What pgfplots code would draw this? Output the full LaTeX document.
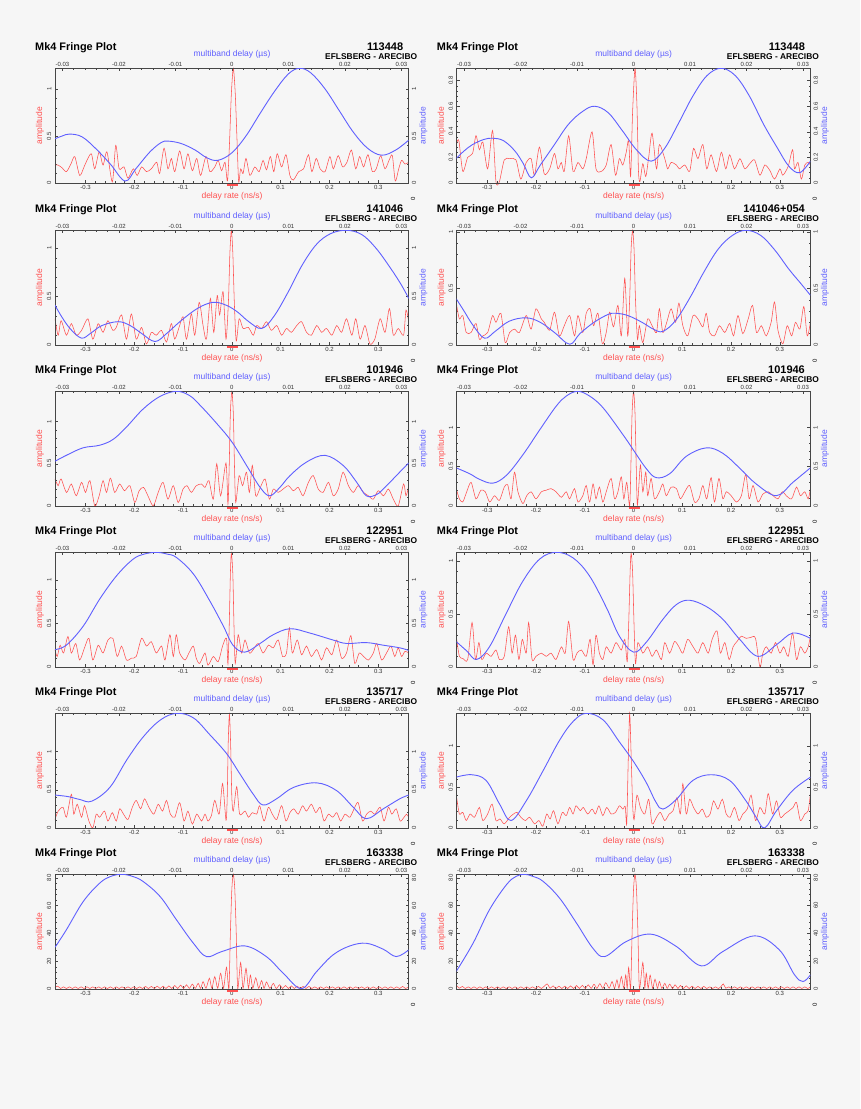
\documentclass[border=0pt]{standalone}
\usepackage{fontspec}
\setmainfont{Liberation Sans}
\usepackage{pgfplots}
\pgfplotsset{compat=1.18}
\definecolor{bgc}{RGB}{246,246,246}
\definecolor{redc}{RGB}{255,80,80}
\definecolor{bluec}{RGB}{95,95,255}
\definecolor{framec}{RGB}{70,70,70}
\pgfplotsset{
  fringe/.style={
    scale only axis, width=353.7pt, height=114.6pt, ymin=0,
    axis line style={draw=framec, line width=0.7pt},
    tick style={draw=framec, line width=0.4pt},
    major tick length=3pt, minor tick length=1.6pt,
    scaled ticks=false,
    /pgf/number format/fixed, /pgf/number format/precision=3,
    /pgf/number format/assume math mode=true,
    tick label style={font=\fontsize{6}{7}\selectfont, text=black!80, inner sep=1pt},
    minor x tick num=4, minor y tick num=4,
  },
}
\newcommand{\panel}[7]{%
\begin{axis}[fringe, at={(#1pt,-#2pt)}, anchor=north west,
  xmin=-0.3625, xmax=0.3625, ymax=#3, ytick={#4},
  xtick={-0.3,-0.2,-0.1,0,0.1,0.2,0.3},
  tick pos=left, clip=false,
  xticklabel style={yshift=-1.5pt},
  yticklabel style={xshift=-2.5pt, rotate=90, anchor=south}]
\addplot[redc, line width=0.55pt, smooth, tension=0.45] coordinates {#6};
\addplot[redc, line width=2pt, yshift=-1.6pt] coordinates {(-0.010,0)(0.013,0)};
\end{axis}
\begin{axis}[fringe, at={(#1pt,-#2pt)}, anchor=north west,
  xmin=-0.0313, xmax=0.0313, ymax=#3, ytick={#4},
  xtick={-0.03,-0.02,-0.01,0,0.01,0.02,0.03},
  tick pos=right, ticklabel pos=right,
  xticklabel style={yshift=0.5pt},
  yticklabel style={xshift=2pt, rotate=90, anchor=north}]
\addplot[bluec, line width=0.9pt, smooth, tension=0.6] coordinates {#7};
\end{axis}
\node[anchor=base west, font=\fontsize{10.9}{12}\selectfont\bfseries] at ({#1-23.3},{-#2+18.3}) {Mk4 Fringe Plot};
\node[anchor=base east, font=\fontsize{11}{12}\selectfont\bfseries] at ({#1+351.7},{-#2+18.3}) {#5};
\node[anchor=base east, font=\fontsize{8.4}{10}\selectfont\bfseries] at ({#1+365.7},{-#2+9.3}) {EFLSBERG - ARECIBO};
\node[bluec, font=\fontsize{8.5}{10}\selectfont] at ({#1+177},{-#2+14}) {multiband delay (µs)};
\node[redc, font=\fontsize{8.5}{10}\selectfont] at ({#1+177},{-#2-114.6-13.3}) {delay rate (ns/s)};
\node[redc, rotate=90, font=\fontsize{8.5}{10}\selectfont] at ({#1-15},{-#2-57.3}) {amplitude};
\node[bluec, rotate=90, font=\fontsize{8.5}{10}\selectfont] at ({#1+368.3},{-#2-57.3}) {amplitude};
\node[rotate=90, font=\fontsize{6}{7}\selectfont] at ({#1+358},{-#2-114.6-15.6}) {0};
}
\begin{document}
\begin{tikzpicture}[x=1pt,y=1pt]
\fill[bgc] (0,0) rectangle (860,-1109);
% ---------- row 1 ----------
\panel{55}{68.3}{1.22}{0,0.5,1}{113448}
{(-0.3625,0.19)(-0.356,0.19)(-0.348,0.16)(-0.339,0.12)(-0.330,0.20)(-0.322,0.28)(-0.312,0.08)(-0.303,0.17)(-0.297,0.24)(-0.288,0.31)(-0.281,0.15)(-0.272,0.33)(-0.264,0.19)(-0.256,0.33)(-0.245,0.01)(-0.238,0.40)(-0.231,0.15)(-0.221,0.17)(-0.213,0.05)(-0.202,0.15)(-0.194,0.08)(-0.185,0.17)(-0.175,0.12)(-0.165,0.15)(-0.154,0.22)(-0.148,0.10)(-0.139,0.37)(-0.131,0.15)(-0.124,0.26)(-0.117,0.12)(-0.107,0.34)(-0.098,0.15)(-0.090,0.31)(-0.081,0.13)(-0.072,0.26)(-0.064,0.08)(-0.053,0.28)(-0.045,0.12)(-0.035,0.17)(-0.028,0.24)(-0.021,0.13)(-0.014,0.22)(-0.009,0.02)(-0.005,0.40)(-0.001,0.95)(0.003,1.22)(0.007,0.95)(0.011,0.40)(0.014,0.01)(0.018,0.15)(0.023,0.10)(0.029,0.26)(0.037,0.08)(0.047,0.17)(0.056,0.12)(0.064,0.24)(0.071,0.14)(0.079,0.28)(0.086,0.12)(0.093,0.31)(0.102,0.17)(0.111,0.30)(0.119,0.08)(0.126,0.03)(0.137,0.12)(0.147,0.15)(0.157,0.30)(0.164,0.12)(0.173,0.26)(0.181,0.15)(0.191,0.12)(0.201,0.28)(0.208,0.15)(0.218,0.29)(0.227,0.17)(0.236,0.22)(0.245,0.35)(0.254,0.15)(0.262,0.28)(0.270,0.17)(0.279,0.30)(0.288,0.12)(0.296,0.15)(0.305,0.29)(0.314,0.15)(0.323,0.25)(0.329,0.29)(0.335,0.02)(0.342,0.15)(0.348,0.24)(0.355,0.20)(0.3625,0.22)}
{(-0.0313,0.47)(-0.0300,0.50)(-0.0287,0.52)(-0.0265,0.49)(-0.0240,0.36)(-0.0215,0.20)(-0.0189,0.02)(-0.0170,0.15)(-0.0145,0.33)(-0.0125,0.43)(-0.0113,0.445)(-0.0090,0.42)(-0.0065,0.35)(-0.0045,0.27)(-0.0025,0.24)(0.0000,0.32)(0.0025,0.50)(0.0050,0.74)(0.0075,0.97)(0.0100,1.16)(0.0120,1.22)(0.0140,1.17)(0.0165,1.00)(0.0190,0.77)(0.0215,0.54)(0.0240,0.37)(0.0265,0.295)(0.0290,0.35)(0.0313,0.455)}
\panel{456.7}{68.3}{0.897}{0,0.2,0.4,0.6,0.8}{113448}
{(-0.3625,0.31)(-0.358,0.33)(-0.350,0.09)(-0.340,0.20)(-0.330,0.23)(-0.323,0.37)(-0.316,0.26)(-0.309,0.32)(-0.299,0.11)(-0.289,0.41)(-0.282,0.01)(-0.275,0.01)(-0.265,0.18)(-0.254,0.19)(-0.241,0.18)(-0.231,0.03)(-0.220,0.16)(-0.210,0.19)(-0.203,0.06)(-0.193,0.28)(-0.183,0.07)(-0.172,0.11)(-0.162,0.23)(-0.155,0.11)(-0.148,0.16)(-0.142,0.09)(-0.133,0.37)(-0.124,0.09)(-0.114,0.16)(-0.104,0.11)(-0.097,0.19)(-0.085,0.40)(-0.077,0.11)(-0.066,0.09)(-0.056,0.14)(-0.046,0.30)(-0.037,0.06)(-0.029,0.19)(-0.022,0.14)(-0.015,0.24)(-0.010,0.33)(-0.006,0.05)(-0.002,0.55)(0.003,0.897)(0.007,0.60)(0.010,0.10)(0.013,0.01)(0.019,0.15)(0.025,0.05)(0.031,0.20)(0.038,0.39)(0.047,0.11)(0.053,0.30)(0.064,0.19)(0.070,0.11)(0.077,0.16)(0.088,0.14)(0.094,0.11)(0.105,0.14)(0.115,0.09)(0.123,0.27)(0.132,0.19)(0.142,0.30)(0.150,0.11)(0.159,0.22)(0.170,0.09)(0.180,0.24)(0.189,0.11)(0.197,0.22)(0.207,0.11)(0.218,0.19)(0.228,0.11)(0.238,0.15)(0.248,0.18)(0.259,0.06)(0.269,0.14)(0.279,0.10)(0.289,0.03)(0.300,0.11)(0.306,0.06)(0.317,0.13)(0.326,0.26)(0.330,0.11)(0.337,0.16)(0.344,0.03)(0.351,0.14)(0.358,0.16)(0.3625,0.14)}
{(-0.0314,0.19)(-0.0300,0.25)(-0.0285,0.30)(-0.0265,0.34)(-0.0249,0.35)(-0.0230,0.33)(-0.0210,0.25)(-0.0195,0.15)(-0.0181,0.04)(-0.0165,0.14)(-0.0140,0.30)(-0.0115,0.46)(-0.0090,0.56)(-0.0069,0.60)(-0.0045,0.55)(-0.0020,0.41)(0.0005,0.26)(0.0031,0.17)(0.0055,0.27)(0.0080,0.47)(0.0105,0.68)(0.0130,0.84)(0.0155,0.897)(0.0180,0.84)(0.0205,0.68)(0.0230,0.46)(0.0255,0.27)(0.0275,0.13)(0.0294,0.08)(0.0313,0.17)}
% ---------- row 2 ----------
\panel{55}{230.3}{1.184}{0,0.5,1}{141046}
{(-0.3625,0.27)(-0.356,0.10)(-0.350,0.25)(-0.339,0.10)(-0.329,0.22)(-0.319,0.10)(-0.308,0.15)(-0.295,0.27)(-0.285,0.06)(-0.274,0.22)(-0.264,0.13)(-0.254,0.25)(-0.244,0.15)(-0.237,0.18)(-0.226,0.31)(-0.216,0.06)(-0.206,0.32)(-0.196,0.06)(-0.185,0.18)(-0.175,0.01)(-0.165,0.13)(-0.155,0.10)(-0.144,0.15)(-0.134,0.03)(-0.124,0.22)(-0.117,0.06)(-0.107,0.20)(-0.100,0.29)(-0.093,0.06)(-0.083,0.32)(-0.076,0.10)(-0.067,0.44)(-0.059,0.20)(-0.052,0.06)(-0.044,0.48)(-0.037,0.13)(-0.030,0.51)(-0.025,0.31)(-0.018,0.55)(-0.012,0.06)(-0.007,0.45)(-0.004,0.95)(-0.001,1.184)(0.002,0.95)(0.005,0.45)(0.009,0.04)(0.015,0.27)(0.023,0.17)(0.034,0.18)(0.044,0.10)(0.051,0.20)(0.061,0.17)(0.071,0.24)(0.081,0.15)(0.092,0.20)(0.102,0.10)(0.112,0.17)(0.122,0.13)(0.133,0.20)(0.143,0.24)(0.153,0.13)(0.163,0.10)(0.174,0.20)(0.184,0.13)(0.194,0.17)(0.205,0.10)(0.215,0.20)(0.225,0.13)(0.235,0.27)(0.246,0.10)(0.254,0.27)(0.263,0.06)(0.273,0.20)(0.283,0.01)(0.293,0.06)(0.304,0.27)(0.314,0.13)(0.323,0.375)(0.331,0.10)(0.341,0.17)(0.352,0.10)(0.357,0.36)(0.3625,0.24)}
{(-0.0313,0.41)(-0.0300,0.28)(-0.0285,0.16)(-0.0266,0.07)(-0.0250,0.12)(-0.0230,0.20)(-0.0201,0.24)(-0.0180,0.20)(-0.0160,0.12)(-0.0136,0.035)(-0.0115,0.12)(-0.0090,0.25)(-0.0060,0.38)(-0.0033,0.44)(-0.0010,0.41)(0.0010,0.34)(0.0030,0.24)(0.0053,0.17)(0.0075,0.30)(0.0100,0.55)(0.0125,0.83)(0.0150,1.04)(0.0175,1.15)(0.0203,1.184)(0.0230,1.14)(0.0255,1.00)(0.0280,0.80)(0.0300,0.62)(0.0313,0.48)}
\panel{456.7}{230.3}{1.015}{0,0.5,1}{141046+054}
{(-0.3625,0.35)(-0.357,0.23)(-0.350,0.26)(-0.343,0.11)(-0.333,0.11)(-0.323,0.19)(-0.316,0.05)(-0.309,0.08)(-0.299,0.11)(-0.289,0.26)(-0.282,0.20)(-0.272,0.28)(-0.263,0.02)(-0.254,0.11)(-0.244,0.14)(-0.234,0.11)(-0.220,0.26)(-0.210,0.14)(-0.200,0.32)(-0.189,0.23)(-0.183,0.20)(-0.172,0.13)(-0.162,0.29)(-0.152,0.08)(-0.142,0.17)(-0.131,0.26)(-0.121,0.08)(-0.114,0.26)(-0.104,0.11)(-0.097,0.28)(-0.089,0.32)(-0.082,0.17)(-0.073,0.28)(-0.064,0.01)(-0.056,0.11)(-0.049,0.29)(-0.041,0.16)(-0.032,0.35)(-0.025,0.08)(-0.018,0.59)(-0.012,0.08)(-0.008,0.40)(-0.005,0.85)(-0.002,1.015)(0.001,0.85)(0.004,0.40)(0.008,0.05)(0.012,0.17)(0.019,0.02)(0.029,0.23)(0.038,0.17)(0.047,0.11)(0.053,0.32)(0.060,0.11)(0.068,0.20)(0.077,0.32)(0.086,0.20)(0.093,0.37)(0.101,0.17)(0.111,0.08)(0.122,0.26)(0.132,0.23)(0.142,0.16)(0.149,0.28)(0.156,0.11)(0.166,0.08)(0.176,0.17)(0.187,0.11)(0.197,0.19)(0.205,0.08)(0.214,0.26)(0.224,0.10)(0.235,0.23)(0.244,0.35)(0.252,0.11)(0.262,0.17)(0.272,0.08)(0.282,0.20)(0.289,0.38)(0.296,0.13)(0.306,0.01)(0.315,0.17)(0.324,0.08)(0.332,0.20)(0.341,0.14)(0.349,0.34)(0.356,0.08)(0.3625,0.20)}
{(-0.0314,0.41)(-0.0300,0.30)(-0.0285,0.18)(-0.0264,0.06)(-0.0245,0.12)(-0.0220,0.21)(-0.0190,0.24)(-0.0165,0.20)(-0.0140,0.11)(-0.0113,0.006)(-0.0095,0.10)(-0.0070,0.20)(-0.0045,0.27)(-0.0031,0.28)(-0.0010,0.26)(0.0015,0.20)(0.0035,0.14)(0.0052,0.12)(0.0075,0.22)(0.0100,0.42)(0.0125,0.65)(0.0150,0.85)(0.0175,0.97)(0.0199,1.015)(0.0225,0.97)(0.0250,0.84)(0.0275,0.67)(0.0295,0.55)(0.0313,0.44)}
% ---------- row 3 ----------
\panel{55}{391.3}{1.36}{0,0.5,1}{101946}
{(-0.3625,0.32)(-0.356,0.24)(-0.350,0.32)(-0.339,0.16)(-0.329,0.26)(-0.319,0.12)(-0.308,0.28)(-0.300,0.16)(-0.291,0.30)(-0.281,0.00)(-0.272,0.12)(-0.264,0.30)(-0.257,0.16)(-0.249,0.33)(-0.240,0.16)(-0.230,0.26)(-0.220,0.18)(-0.209,0.24)(-0.199,0.04)(-0.190,0.18)(-0.181,0.22)(-0.172,0.12)(-0.161,0.00)(-0.151,0.16)(-0.141,0.28)(-0.131,0.08)(-0.120,0.24)(-0.110,0.04)(-0.100,0.20)(-0.092,0.24)(-0.083,0.16)(-0.073,0.24)(-0.062,0.26)(-0.055,0.22)(-0.047,0.30)(-0.038,0.08)(-0.031,0.50)(-0.023,0.12)(-0.012,0.51)(-0.008,0.02)(-0.0055,0.45)(-0.003,1.10)(0.000,1.36)(0.003,1.10)(0.0055,0.45)(0.008,0.04)(0.015,0.36)(0.022,0.24)(0.030,0.40)(0.036,0.16)(0.042,0.48)(0.049,0.12)(0.057,0.20)(0.068,0.32)(0.077,0.08)(0.085,0.20)(0.095,0.16)(0.105,0.20)(0.116,0.24)(0.126,0.18)(0.136,0.22)(0.146,0.12)(0.157,0.28)(0.167,0.36)(0.177,0.20)(0.187,0.16)(0.198,0.28)(0.208,0.12)(0.218,0.20)(0.228,0.40)(0.239,0.24)(0.249,0.16)(0.259,0.24)(0.270,0.16)(0.280,0.12)(0.290,0.08)(0.300,0.18)(0.311,0.12)(0.321,0.20)(0.331,0.08)(0.341,0.00)(0.352,0.26)(0.357,0.12)(0.3625,0.24)}
{(-0.0313,0.53)(-0.0290,0.61)(-0.0263,0.69)(-0.0234,0.72)(-0.0210,0.79)(-0.0186,0.94)(-0.0157,1.15)(-0.0127,1.30)(-0.0098,1.36)(-0.0075,1.31)(-0.0057,1.20)(-0.0027,0.98)(0.0000,0.76)(0.0026,0.48)(0.0050,0.22)(0.0067,0.12)(0.0085,0.22)(0.0103,0.36)(0.0132,0.52)(0.0165,0.60)(0.0197,0.48)(0.0221,0.28)(0.0238,0.12)(0.0255,0.13)(0.0268,0.20)(0.0297,0.40)(0.0313,0.51)}
\panel{456.7}{391.3}{1.46}{0,0.5,1}{101946}
{(-0.3625,0.20)(-0.357,0.09)(-0.350,0.05)(-0.342,0.18)(-0.333,0.30)(-0.323,0.09)(-0.313,0.20)(-0.304,0.18)(-0.295,0.05)(-0.285,0.13)(-0.275,0.07)(-0.265,0.24)(-0.258,0.27)(-0.251,0.09)(-0.244,0.43)(-0.237,0.18)(-0.227,0.03)(-0.219,0.13)(-0.210,0.18)(-0.200,0.09)(-0.189,0.18)(-0.179,0.20)(-0.169,0.22)(-0.159,0.18)(-0.148,0.11)(-0.138,0.18)(-0.131,0.09)(-0.121,0.22)(-0.114,0.05)(-0.104,0.13)(-0.097,0.26)(-0.090,0.05)(-0.083,0.28)(-0.077,0.09)(-0.070,0.24)(-0.063,0.05)(-0.056,0.18)(-0.046,0.35)(-0.039,0.09)(-0.032,0.18)(-0.025,0.37)(-0.020,0.09)(-0.014,0.30)(-0.008,0.00)(-0.0055,0.50)(-0.003,1.18)(0.000,1.46)(0.003,1.18)(0.0055,0.50)(0.008,0.01)(0.014,0.52)(0.019,0.18)(0.025,0.43)(0.029,0.13)(0.036,0.35)(0.043,0.09)(0.053,0.18)(0.060,0.28)(0.067,0.13)(0.077,0.24)(0.088,0.22)(0.096,0.09)(0.105,0.18)(0.115,0.26)(0.125,0.05)(0.134,0.09)(0.142,0.26)(0.150,0.09)(0.159,0.36)(0.166,0.05)(0.175,0.35)(0.183,0.09)(0.190,0.18)(0.200,0.13)(0.211,0.05)(0.221,0.13)(0.230,0.40)(0.237,0.09)(0.245,0.26)(0.255,0.05)(0.265,0.15)(0.276,0.18)(0.286,0.13)(0.296,0.09)(0.305,0.18)(0.313,0.13)(0.324,0.09)(0.334,0.24)(0.342,0.13)(0.351,0.18)(0.358,0.09)(0.3625,0.22)}
{(-0.0314,0.485)(-0.0290,0.41)(-0.0273,0.34)(-0.0249,0.29)(-0.0225,0.39)(-0.0196,0.65)(-0.0166,0.97)(-0.0137,1.27)(-0.0119,1.40)(-0.0099,1.46)(-0.0078,1.40)(-0.0054,1.25)(-0.0019,0.91)(0.0000,0.71)(0.0022,0.48)(0.0040,0.36)(0.0064,0.41)(0.0093,0.63)(0.0129,0.74)(0.0158,0.67)(0.0188,0.48)(0.0217,0.28)(0.0253,0.13)(0.0282,0.30)(0.0313,0.485)}
% ---------- row 4 ----------
\panel{55}{552.3}{1.32}{0,0.5,1}{122951}
{(-0.3625,0.20)(-0.358,0.12)(-0.352,0.25)(-0.345,0.16)(-0.336,0.35)(-0.329,0.16)(-0.320,0.27)(-0.312,0.08)(-0.302,0.22)(-0.293,0.33)(-0.285,0.08)(-0.274,0.25)(-0.264,0.16)(-0.254,0.31)(-0.244,0.33)(-0.235,0.12)(-0.226,0.24)(-0.216,0.08)(-0.206,0.10)(-0.196,0.12)(-0.185,0.33)(-0.175,0.24)(-0.165,0.29)(-0.155,0.16)(-0.144,0.24)(-0.137,0.08)(-0.127,0.37)(-0.120,0.12)(-0.114,0.37)(-0.107,0.16)(-0.096,0.08)(-0.088,0.16)(-0.079,0.24)(-0.073,0.10)(-0.066,0.04)(-0.055,0.16)(-0.049,0.02)(-0.038,0.12)(-0.028,0.06)(-0.019,0.24)(-0.011,0.33)(-0.008,0.03)(-0.0055,0.45)(-0.003,1.07)(-0.001,1.31)(0.002,1.07)(0.0045,0.45)(0.007,0.04)(0.013,0.37)(0.020,0.16)(0.027,0.31)(0.036,0.16)(0.044,0.20)(0.054,0.27)(0.064,0.16)(0.075,0.25)(0.085,0.22)(0.095,0.31)(0.104,0.12)(0.112,0.16)(0.118,0.45)(0.124,0.16)(0.134,0.31)(0.143,0.14)(0.153,0.24)(0.163,0.12)(0.174,0.20)(0.184,0.08)(0.194,0.22)(0.205,0.14)(0.215,0.31)(0.225,0.10)(0.235,0.16)(0.244,0.36)(0.252,0.04)(0.261,0.16)(0.270,0.12)(0.280,0.08)(0.290,0.16)(0.297,0.27)(0.307,0.08)(0.317,0.16)(0.326,0.24)(0.334,0.12)(0.341,0.22)(0.348,0.12)(0.355,0.18)(0.3625,0.16)}
{(-0.0313,0.20)(-0.0293,0.25)(-0.0263,0.47)(-0.0234,0.78)(-0.0204,1.05)(-0.0175,1.24)(-0.0155,1.30)(-0.0133,1.32)(-0.0115,1.30)(-0.0098,1.26)(-0.0068,1.07)(-0.0039,0.76)(-0.0015,0.47)(0.0002,0.25)(0.0023,0.17)(0.0050,0.27)(0.0073,0.37)(0.0103,0.44)(0.0138,0.39)(0.0179,0.31)(0.0203,0.27)(0.0238,0.28)(0.0268,0.25)(0.0297,0.22)(0.0313,0.19)}
\panel{456.7}{552.3}{1.083}{0,0.5,1}{122951}
{(-0.3625,0.26)(-0.357,0.10)(-0.350,0.08)(-0.340,0.07)(-0.331,0.42)(-0.324,0.07)(-0.317,0.23)(-0.311,0.07)(-0.302,0.13)(-0.292,0.10)(-0.282,0.16)(-0.275,0.07)(-0.265,0.10)(-0.256,0.38)(-0.249,0.13)(-0.242,0.30)(-0.235,0.07)(-0.228,0.26)(-0.220,0.13)(-0.215,0.42)(-0.208,0.07)(-0.200,0.10)(-0.189,0.13)(-0.179,0.10)(-0.169,0.13)(-0.159,0.07)(-0.148,0.19)(-0.140,0.13)(-0.133,0.43)(-0.124,0.07)(-0.116,0.13)(-0.107,0.16)(-0.097,0.10)(-0.089,0.26)(-0.083,0.02)(-0.077,0.30)(-0.070,0.13)(-0.063,0.07)(-0.056,0.19)(-0.046,0.13)(-0.036,0.23)(-0.025,0.16)(-0.018,0.26)(-0.013,0.05)(-0.010,0.40)(-0.007,0.90)(-0.005,1.076)(-0.002,0.90)(0.001,0.40)(0.004,0.03)(0.009,0.23)(0.019,0.13)(0.029,0.19)(0.038,0.10)(0.047,0.16)(0.057,0.07)(0.064,0.23)(0.074,0.13)(0.084,0.24)(0.093,0.19)(0.101,0.13)(0.111,0.26)(0.122,0.19)(0.132,0.13)(0.142,0.23)(0.153,0.13)(0.161,0.26)(0.171,0.34)(0.178,0.13)(0.187,0.23)(0.196,0.07)(0.204,0.19)(0.212,0.24)(0.221,0.29)(0.231,0.27)(0.241,0.28)(0.250,0.27)(0.259,0.00)(0.265,0.13)(0.272,0.19)(0.282,0.13)(0.291,0.23)(0.300,0.13)(0.308,0.19)(0.317,0.10)(0.326,0.32)(0.334,0.07)(0.342,0.19)(0.351,0.13)(0.358,0.19)(0.3625,0.29)}
{(-0.0314,0.24)(-0.0295,0.15)(-0.0278,0.07)(-0.0255,0.19)(-0.0225,0.51)(-0.0196,0.81)(-0.0166,1.02)(-0.0137,1.083)(-0.0107,1.03)(-0.0078,0.86)(-0.0048,0.56)(-0.0025,0.29)(0.0000,0.14)(0.0022,0.23)(0.0052,0.45)(0.0076,0.59)(0.0099,0.63)(0.0129,0.57)(0.0158,0.45)(0.0188,0.26)(0.0220,0.10)(0.0253,0.21)(0.0282,0.32)(0.0313,0.27)}
% ---------- row 5 ----------
\panel{55}{713.3}{1.50}{0,0.5,1}{135717}
{(-0.3625,0.11)(-0.356,0.22)(-0.346,0.27)(-0.339,0.14)(-0.329,0.44)(-0.324,0.18)(-0.317,0.31)(-0.308,0.14)(-0.302,0.29)(-0.293,0.09)(-0.285,0.00)(-0.278,0.18)(-0.271,0.14)(-0.261,0.22)(-0.254,0.09)(-0.245,0.20)(-0.237,0.09)(-0.230,0.25)(-0.222,0.18)(-0.213,0.11)(-0.204,0.27)(-0.196,0.36)(-0.187,0.25)(-0.179,0.38)(-0.170,0.27)(-0.160,0.18)(-0.151,0.31)(-0.142,0.22)(-0.134,0.36)(-0.126,0.18)(-0.117,0.14)(-0.107,0.33)(-0.098,0.09)(-0.090,0.22)(-0.081,0.05)(-0.072,0.18)(-0.062,0.09)(-0.055,0.18)(-0.049,0.09)(-0.042,0.16)(-0.035,0.36)(-0.026,0.18)(-0.019,0.58)(-0.012,0.10)(-0.0095,0.40)(-0.0075,1.10)(-0.005,1.49)(-0.0025,1.10)(0.000,0.40)(0.003,0.22)(0.010,0.54)(0.016,0.18)(0.027,0.22)(0.034,0.14)(0.042,0.20)(0.051,0.18)(0.057,0.29)(0.066,0.09)(0.075,0.27)(0.083,0.18)(0.092,0.11)(0.102,0.29)(0.111,0.09)(0.119,0.20)(0.127,0.25)(0.136,0.18)(0.145,0.29)(0.153,0.22)(0.163,0.31)(0.172,0.20)(0.181,0.27)(0.189,0.09)(0.198,0.18)(0.207,0.14)(0.215,0.20)(0.223,0.09)(0.232,0.18)(0.242,0.14)(0.252,0.27)(0.259,0.33)(0.268,0.09)(0.276,0.18)(0.285,0.22)(0.293,0.18)(0.304,0.27)(0.312,0.09)(0.321,0.27)(0.328,0.18)(0.337,0.25)(0.345,0.09)(0.353,0.14)(0.358,0.18)(0.3625,0.14)}
{(-0.0313,0.43)(-0.0290,0.41)(-0.0268,0.37)(-0.0248,0.35)(-0.0216,0.53)(-0.0186,0.89)(-0.0157,1.19)(-0.0127,1.41)(-0.0098,1.50)(-0.0068,1.44)(-0.0039,1.22)(-0.0009,0.97)(0.0014,0.71)(0.0038,0.44)(0.0055,0.30)(0.0079,0.38)(0.0109,0.53)(0.0150,0.59)(0.0185,0.49)(0.0215,0.27)(0.0238,0.12)(0.0268,0.25)(0.0297,0.38)(0.0313,0.43)}
\panel{456.7}{713.3}{1.40}{0,0.5,1}{135717}
{(-0.3625,0.37)(-0.357,0.17)(-0.350,0.19)(-0.343,0.09)(-0.335,0.17)(-0.326,0.13)(-0.316,0.25)(-0.309,0.09)(-0.299,0.17)(-0.290,0.29)(-0.282,0.09)(-0.274,0.11)(-0.265,0.05)(-0.254,0.13)(-0.246,0.17)(-0.239,0.19)(-0.231,0.13)(-0.222,0.09)(-0.213,0.13)(-0.203,0.05)(-0.194,0.09)(-0.186,0.02)(-0.178,0.17)(-0.171,0.11)(-0.164,0.21)(-0.155,0.05)(-0.146,0.19)(-0.138,0.15)(-0.131,0.25)(-0.124,0.17)(-0.118,0.27)(-0.109,0.21)(-0.103,0.25)(-0.094,0.17)(-0.085,0.23)(-0.078,0.17)(-0.071,0.27)(-0.063,0.15)(-0.055,0.25)(-0.046,0.17)(-0.037,0.19)(-0.029,0.27)(-0.022,0.23)(-0.017,0.26)(-0.014,0.05)(-0.011,0.80)(-0.008,1.40)(-0.005,0.90)(-0.002,0.30)(0.001,0.10)(0.007,0.40)(0.014,0.25)(0.023,0.17)(0.031,0.35)(0.038,0.05)(0.047,0.13)(0.055,0.19)(0.064,0.09)(0.073,0.17)(0.081,0.21)(0.089,0.37)(0.096,0.17)(0.101,0.54)(0.108,0.17)(0.115,0.35)(0.123,0.25)(0.132,0.17)(0.141,0.23)(0.149,0.13)(0.157,0.17)(0.164,0.33)(0.173,0.23)(0.182,0.35)(0.190,0.17)(0.198,0.13)(0.207,0.25)(0.216,0.09)(0.224,0.17)(0.233,0.23)(0.241,0.40)(0.250,0.09)(0.259,0.25)(0.269,0.17)(0.276,0.42)(0.285,0.17)(0.293,0.33)(0.301,0.13)(0.310,0.17)(0.319,0.21)(0.327,0.25)(0.334,0.31)(0.342,0.09)(0.351,0.17)(0.358,0.21)(0.3625,0.42)}
{(-0.0314,0.62)(-0.0287,0.65)(-0.0261,0.58)(-0.0237,0.29)(-0.0217,0.09)(-0.0190,0.33)(-0.0160,0.70)(-0.0131,1.07)(-0.0107,1.30)(-0.0084,1.40)(-0.0054,1.32)(-0.0025,1.05)(0.0000,0.81)(0.0022,0.56)(0.0040,0.31)(0.0052,0.23)(0.0076,0.35)(0.0105,0.58)(0.0137,0.65)(0.0170,0.58)(0.0199,0.33)(0.0217,0.13)(0.0232,0.00)(0.0253,0.21)(0.0282,0.46)(0.0313,0.62)}
% ---------- row 6 ----------
\panel{55}{874.3}{82.6}{0,20,40,60,80}{163338}
{(-0.3625,1.0)(-0.357,2.0)(-0.351,0.3)(-0.345,1.5)(-0.339,0.3)(-0.333,1.5)(-0.327,0.3)(-0.321,1.5)(-0.315,0.3)(-0.309,1.5)(-0.303,0.3)(-0.297,1.5)(-0.291,0.3)(-0.285,1.5)(-0.279,0.3)(-0.273,1.5)(-0.267,0.3)(-0.261,1.5)(-0.255,0.3)(-0.249,1.5)(-0.243,0.3)(-0.237,1.5)(-0.231,0.3)(-0.225,1.5)(-0.219,0.3)(-0.213,1.5)(-0.207,0.3)(-0.201,1.5)(-0.195,0.3)(-0.189,1.5)(-0.183,0.3)(-0.177,1.8)(-0.171,0.3)(-0.165,1.8)(-0.159,0.3)(-0.153,2.0)(-0.147,0.3)(-0.141,2.0)(-0.135,0.3)(-0.129,2.2)(-0.123,0.3)(-0.117,2.5)(-0.111,0.3)(-0.105,2.8)(-0.099,0.3)(-0.093,3.0)(-0.087,0.4)(-0.081,3.5)(-0.075,0.4)(-0.069,4.0)(-0.064,0.4)(-0.059,5.3)(-0.053,0.5)(-0.046,7.7)(-0.041,0.5)(-0.035,8.9)(-0.029,0.5)(-0.023,11.3)(-0.017,0.5)(-0.011,15.6)(-0.006,0.3)(-0.003,40)(0.000,72)(0.003,82.6)(0.006,72)(0.009,40)(0.012,0.3)(0.018,19.0)(0.023,0.5)(0.029,14.9)(0.034,0.5)(0.038,10.0)(0.043,0.5)(0.049,8.0)(0.055,0.4)(0.061,6.0)(0.066,0.4)(0.071,5.0)(0.078,0.4)(0.085,4.0)(0.091,0.3)(0.098,3.0)(0.104,0.3)(0.110,2.5)(0.116,0.3)(0.122,2.2)(0.128,0.3)(0.134,2.0)(0.140,0.3)(0.146,1.8)(0.152,0.3)(0.158,1.8)(0.164,0.3)(0.170,1.5)(0.176,0.3)(0.182,1.5)(0.188,0.3)(0.194,1.5)(0.200,0.3)(0.206,1.5)(0.212,0.3)(0.218,1.5)(0.224,0.3)(0.230,1.5)(0.236,0.3)(0.242,1.5)(0.248,0.3)(0.254,1.5)(0.260,0.3)(0.266,1.5)(0.272,0.3)(0.278,1.5)(0.284,0.3)(0.290,1.5)(0.296,0.3)(0.302,1.5)(0.308,0.3)(0.314,1.5)(0.320,0.3)(0.326,1.5)(0.332,0.3)(0.338,1.5)(0.344,0.3)(0.350,1.8)(0.356,0.3)(0.3625,1.5)}
{(-0.0313,30.0)(-0.0293,42.5)(-0.0263,63.0)(-0.0234,76.2)(-0.0215,81.0)(-0.0195,82.6)(-0.0175,81.0)(-0.0157,77.4)(-0.0127,66.6)(-0.0098,49.8)(-0.0068,32.9)(-0.0045,23.3)(-0.0018,26.9)(0.0023,31.0)(0.0061,23.3)(0.0091,11.3)(0.0123,0.2)(0.0150,12.5)(0.0179,24.5)(0.0209,31.0)(0.0238,32.9)(0.0268,28.6)(0.0291,23.3)(0.0313,28.1)}
\panel{456.7}{874.3}{82.5}{0,20,40,60,80}{163338}
{(-0.3625,2.4)(-0.357,0.5)(-0.351,1.8)(-0.345,0.3)(-0.339,1.5)(-0.333,0.3)(-0.327,1.5)(-0.321,0.3)(-0.315,1.5)(-0.309,0.3)(-0.303,1.5)(-0.297,0.3)(-0.291,1.5)(-0.285,0.3)(-0.279,1.5)(-0.273,0.3)(-0.267,1.5)(-0.261,0.3)(-0.255,1.5)(-0.249,0.3)(-0.243,1.5)(-0.237,0.3)(-0.231,1.5)(-0.225,0.3)(-0.219,1.5)(-0.213,0.3)(-0.207,1.5)(-0.201,0.3)(-0.195,1.8)(-0.189,0.3)(-0.183,2.0)(-0.177,3.6)(-0.171,0.5)(-0.165,2.2)(-0.159,0.3)(-0.153,2.0)(-0.147,0.3)(-0.141,2.0)(-0.135,0.3)(-0.129,2.2)(-0.123,0.3)(-0.117,2.4)(-0.111,0.3)(-0.105,2.6)(-0.099,0.3)(-0.093,3.0)(-0.087,0.4)(-0.081,3.3)(-0.075,0.4)(-0.069,3.8)(-0.063,0.4)(-0.057,4.5)(-0.050,0.5)(-0.044,5.3)(-0.039,0.5)(-0.034,6.5)(-0.030,0.5)(-0.025,8.9)(-0.020,0.5)(-0.016,10.1)(-0.013,0.5)(-0.010,15.4)(-0.006,0.3)(-0.003,40)(0.000,72)(0.003,82.5)(0.006,72)(0.009,40)(0.012,0.3)(0.019,19.0)(0.023,0.5)(0.026,11.3)(0.030,0.5)(0.034,10.0)(0.039,0.5)(0.044,7.0)(0.049,0.5)(0.053,5.3)(0.058,0.4)(0.064,4.0)(0.069,0.4)(0.074,3.5)(0.080,0.3)(0.085,3.0)(0.091,0.3)(0.096,2.5)(0.102,0.3)(0.108,2.2)(0.114,0.3)(0.120,2.0)(0.126,0.3)(0.132,1.8)(0.138,0.3)(0.144,1.8)(0.150,0.3)(0.156,1.5)(0.162,0.3)(0.168,1.5)(0.174,0.3)(0.180,2.0)(0.184,3.6)(0.189,0.5)(0.195,1.5)(0.201,0.3)(0.207,1.5)(0.213,0.3)(0.219,1.5)(0.225,0.3)(0.231,1.5)(0.237,0.3)(0.243,1.5)(0.249,0.3)(0.255,1.5)(0.261,0.3)(0.267,1.5)(0.273,0.3)(0.279,1.5)(0.285,0.3)(0.291,1.5)(0.297,0.3)(0.303,1.5)(0.309,0.3)(0.315,1.5)(0.321,0.3)(0.327,1.5)(0.333,0.3)(0.339,1.5)(0.345,0.3)(0.351,1.5)(0.357,0.3)(0.3625,1.5)}
{(-0.0314,12.5)(-0.0284,32.9)(-0.0255,57.0)(-0.0225,75.0)(-0.0208,81.0)(-0.0193,82.5)(-0.0178,81.0)(-0.0160,77.4)(-0.0131,65.4)(-0.0101,47.4)(-0.0072,29.3)(-0.0051,23.3)(-0.0013,34.1)(0.0031,39.4)(0.0076,30.5)(0.0120,16.6)(0.0158,26.9)(0.0214,38.2)(0.0258,28.1)(0.0285,10.1)(0.0300,5.3)(0.0313,10.1)}
\end{tikzpicture}
\end{document}
